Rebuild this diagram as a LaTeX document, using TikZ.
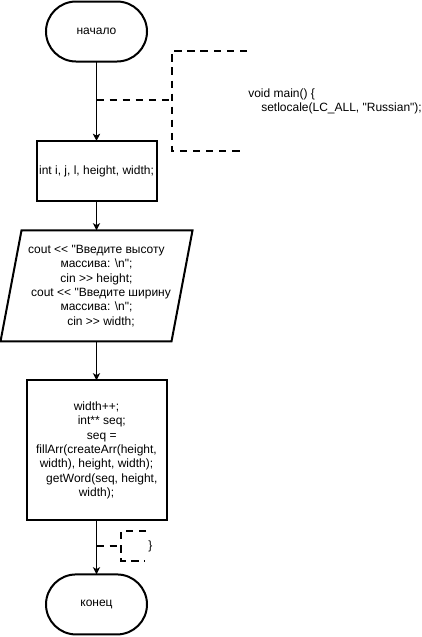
\documentclass[tikz,border=0pt]{standalone}
\usepackage{fontspec}
\setmainfont{Liberation Sans}[Ligatures=TeXOff]
\usetikzlibrary{arrows.meta,positioning}

\begin{document}
\begin{tikzpicture}[
  x=0.75pt, y=-0.75pt,
  font=\fontsize{9}{10.8}\selectfont,
  term/.style={draw, rectangle, rounded corners=22.5pt, line width=1.5pt, minimum width=75.75pt, minimum height=45pt, outer sep=0pt},
  proc/.style={draw, rectangle, line width=1.5pt, align=center, inner sep=1pt, outer sep=0pt},
  io/.style={rectangle, align=center, inner sep=0pt, outer sep=0pt, minimum width=128.25pt, minimum height=83.25pt},
  edge/.style={line width=1.5pt},
  arr/.style={-{Stealth[length=5.5pt, width=5.5pt, inset=1.5pt]}, line width=0.75pt},
  note/.style={line width=1.5pt, dash pattern=on 5.5pt off 4.3pt}
]
\useasboundingbox (0,0) rectangle (422,637);
\node[term] (start) at (96.5,31.5) {начало};
\node[proc, minimum width=90pt, minimum height=45pt, below=59.6pt of start] (vars) {int i, j, l, height, width;};
\node[io, below=22.1pt of vars] (input) {cout << "Введите высоту\\
  массива: \textbackslash n";\\
  cin >> height;\\
  \hspace*{6.75pt}cout << "Введите ширину\\
  массива: \textbackslash n";\\
  \hspace*{6.75pt}cin >> width;};
\draw[edge] ([xshift=7.875pt]input.north west) -- ([xshift=7.875pt]input.north east)
  -- ([xshift=-7.875pt]input.south east) -- ([xshift=-7.875pt]input.south west) -- cycle;
\node[proc, minimum width=105pt, minimum height=105pt, below=29.25pt of input] (calc) {width++;\\
  \hspace*{8pt}int** seq;\\
  \hspace*{8pt}seq =\\
  fillArr(createArr(height,\\
  width), height, width);\\
  \hspace*{8pt}getWord(seq, height,\\
  width);};
\node[term, below=40.5pt of calc] (stop) {конец};
% comments
\node[anchor=west, align=left, inner sep=0pt] (note1) at (248,101.5) {void main() \{\\\hspace*{9.75pt}setlocale(LC\_ALL, "Russian");};
\node[anchor=west, inner sep=0pt] (note2) at (148,546.5) {\}};
\coordinate (br1) at (96.5,100);
\coordinate (br2) at (96.5,546);
\draw[arr] (start) -- (vars);
\draw[arr] (vars) -- (input);
\draw[arr] (input) -- (calc);
\draw[arr] (calc) -- (stop);
\draw[note] (br1) -- (172,100);
\draw[note] (247,51) -| (172,151) -- (243,151);
\draw[note] (br2) -- (121,546);
\draw[note] (146,531) -| (121,561) -- (145,561);
\end{tikzpicture}
\end{document}
